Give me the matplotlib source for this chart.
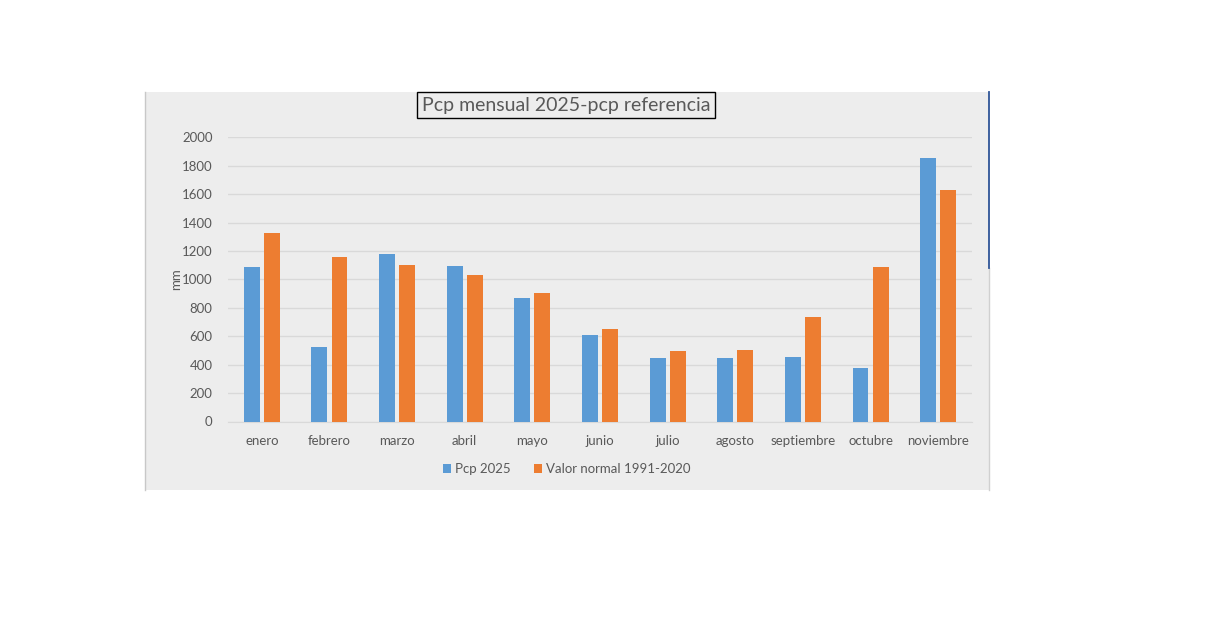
import matplotlib
matplotlib.use("Agg")
import matplotlib.pyplot as plt
from matplotlib.patches import Rectangle
from matplotlib.lines import Line2D
import numpy as np

months = ["enero", "febrero", "marzo", "abril", "mayo", "junio", "julio",
          "agosto", "septiembre", "octubre", "noviembre"]
pcp_2025 = [1090, 525, 1180, 1095, 870, 610, 445, 445, 455, 380, 1855]
normal_1991_2020 = [1330, 1160, 1100, 1030, 905, 650, 495, 505, 735, 1085, 1630]
yticks = [0, 200, 400, 600, 800, 1000, 1200, 1400, 1600, 1800, 2000]

BLUE = "#5B9BD5"
ORANGE = "#ED7D31"
PANEL = "#EDEDED"
TXT = "#595959"

plt.rcParams['font.family'] = ['Lato', 'DejaVu Sans']

W, H = 1208, 619
fig = plt.figure(figsize=(W / 100, H / 100), dpi=100)
fig.patch.set_facecolor("white")

def fx(px):
    return px / W

def fy(py):
    return 1 - py / H

# grey chart panel
fig.patches.append(Rectangle((fx(145), fy(490)), fx(989) - fx(145), fy(92) - fy(490),
                             transform=fig.transFigure, facecolor=PANEL,
                             edgecolor="none", zorder=-5))
fig.lines.append(Line2D([fx(145), fx(145)], [fy(490), fy(92)], transform=fig.transFigure,
                        color="#C8C8C8", lw=1, zorder=-4))
fig.lines.append(Line2D([fx(989), fx(989)], [fy(490), fy(268)], transform=fig.transFigure,
                        color="#D0D0D0", lw=1, zorder=-4))
fig.lines.append(Line2D([fx(989), fx(989)], [fy(268), fy(92)], transform=fig.transFigure,
                        color="#2F5597", lw=1.3, zorder=-4))

ax = fig.add_axes([fx(228), fy(421.5), fx(972) - fx(228), fy(137.3) - fy(421.5)])
ax.set_zorder(2)
ax.set_facecolor("none")

x = np.arange(len(months))
w = 0.235
off = 0.148
ax.bar(x - off, pcp_2025, width=w, color=BLUE, label="Pcp 2025", zorder=3)
ax.bar(x + off, normal_1991_2020, width=w, color=ORANGE, label="Valor normal 1991-2020", zorder=3)

ax.set_xlim(-0.5, len(months) - 0.5)
ax.set_ylim(0, 2000)
ax.set_yticks(yticks)
ax.set_yticklabels([str(v) for v in yticks])
ax.set_xticks(x)
ax.set_xticklabels(months)
ax.yaxis.grid(True, color="#D9D9D9", lw=1, zorder=0)
ax.set_axisbelow(True)
for s in ["top", "right", "left"]:
    ax.spines[s].set_visible(False)
ax.spines["bottom"].set_color("#D9D9D9")
ax.tick_params(axis="both", length=0, colors=TXT, labelsize=9.5)
ax.tick_params(axis="y", pad=11)
ax.tick_params(axis="x", pad=10)
ax.set_ylabel("mm", color=TXT, fontsize=9.5, labelpad=0)

fig.text(fx(566), fy(105), "Pcp mensual 2025-pcp referencia", ha="center", va="center",
         fontsize=14, color=TXT, zorder=5,
         bbox=dict(boxstyle="square,pad=0.25", facecolor=PANEL, edgecolor="black", lw=1))

leg = fig.legend(loc="center", bbox_to_anchor=(fx(567), fy(469)), ncol=2, frameon=False,
                 fontsize=9.5, handlelength=0.6, handleheight=0.6, handletextpad=0.3,
                 columnspacing=1.8)
for t in leg.get_texts():
    t.set_color(TXT)

fig.savefig("out.png", dpi=100, facecolor="white")
